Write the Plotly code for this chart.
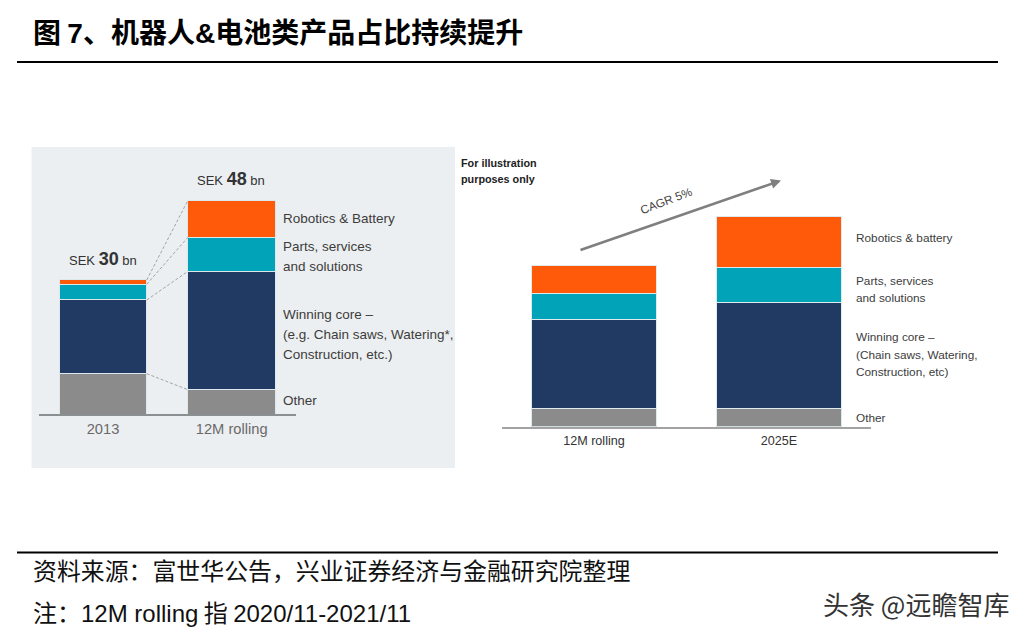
import numpy as np
import plotly.graph_objects as go

W, H = 1030, 636
TITLE = "图 <span style='font-family:Liberation Sans'>7</span>、机器人<span style='font-family:Liberation Sans'>&amp;</span>电池类产品占比持续提升"
SOURCE = "资料来源：富世华公告，兴业证券经济与金融研究院整理"
NOTE = "注：<span style='font-family:Liberation Sans'>12M rolling</span> 指 <span style='font-family:Liberation Sans'>2020/11-2021/11</span>"
WATERMARK = "头条 @远瞻智库"

left_categories = ["2013", "12M rolling"]
left_other = [9.06, 5.46]
left_core = [16.56, 26.6]
left_parts = [3.53, 7.64]
left_robotics = [0.97, 8.31]

right_categories = ["12M rolling", "2025E"]
right_other = [5.5, 5.5]
right_core = [26.6, 31.4]
right_parts = [7.66, 10.6]
right_robotics = [8.23, 15.1]

GREY, NAVY, TEAL, ORANGE = "#8C8B8B", "#213A63", "#00A3B8", "#FF5A0A"
SERIES = [("Other", GREY), ("Winning core", NAVY), ("Parts", TEAL), ("Robotics", ORANGE)]
BAR_W = 0.68


def px(x):
    return x / W


def py(y):
    return 1 - y / H


fig = go.Figure()
for (name, color), lv, rv in zip(
    SERIES,
    [left_other, left_core, left_parts, left_robotics],
    [right_other, right_core, right_parts, right_robotics],
):
    fig.add_bar(x=left_categories, y=lv, name=name, marker=dict(color=color, line=dict(color="#DCE8EC", width=1)),
                width=BAR_W, xaxis="x", yaxis="y", showlegend=False)
    fig.add_bar(x=right_categories, y=rv, name=name, marker=dict(color=color, line=dict(color="#DDEBEE", width=1)),
                width=BAR_W, xaxis="x2", yaxis="y2", showlegend=False)

shapes = [
    dict(type="rect", xref="paper", yref="paper", x0=px(31.5), x1=px(455), y0=py(468), y1=py(147),
         fillcolor="#ECEFF1", line_width=0, layer="below"),
    dict(type="line", xref="paper", yref="paper", x0=px(17), x1=px(998), y0=py(62), y1=py(62),
         line=dict(color="#000000", width=2)),
    dict(type="line", xref="paper", yref="paper", x0=px(17), x1=px(998), y0=py(552.5), y1=py(552.5),
         line=dict(color="#000000", width=2)),
]
# dashed connectors between the two left bars, at each cumulative segment top
cum_a = np.cumsum([left_other[0], left_core[0], left_parts[0], left_robotics[0]])
cum_b = np.cumsum([left_other[1], left_core[1], left_parts[1], left_robotics[1]])
for a, b in zip(cum_a, cum_b):
    shapes.append(dict(type="line", xref="x", yref="y", x0=BAR_W / 2, x1=1 - BAR_W / 2, y0=a, y1=b,
                       line=dict(color="#A0A4A7", width=1, dash="3px,2px")))

LF = "Liberation Sans"
CJK = "Noto Sans CJK SC"
L_SIZE = 13.5
R_SIZE = 11.8


def label(x, y, text, size=L_SIZE, color="#3C3C3C", anchor="left", angle=0, family=LF):
    return dict(xref="paper", yref="paper", x=px(x - (2 if anchor == "left" else 0)), y=py(y), text=text,
                showarrow=False, xanchor=anchor, yanchor="middle", align=anchor,
                textangle=angle, font=dict(family=family, size=size, color=color))


annotations = [
    label(33, 31, f"<b>{TITLE}</b>", size=28, color="#000000", family=CJK),
    label(33, 569, SOURCE, size=23.9, color="#111111", family=CJK),
    label(33, 611, NOTE, size=24, color="#111111", family=CJK),
    label(823, 603, WATERMARK, size=26, color="#333333", family=CJK),
    label(103, 259, "SEK <span style='font-size:18px'><b>30</b></span> bn", size=13, anchor="center", color="#333333"),
    label(231, 179, "SEK <span style='font-size:18px'><b>48</b></span> bn", size=13, anchor="center", color="#333333"),
    label(283, 218, "Robotics &amp; Battery"),
    label(283, 247, "Parts, services"),
    label(283, 266, "and solutions"),
    label(283, 315, "Winning core –"),
    label(283, 334.5, "(e.g. Chain saws, Watering*,"),
    label(283, 354, "Construction, etc.)"),
    label(283, 400, "Other"),
    label(461, 163, "<b>For illustration</b>", size=10.8, color="#222222"),
    label(461, 179, "<b>purposes only</b>", size=10.8, color="#222222"),
    label(856, 238, "Robotics &amp; battery", size=R_SIZE),
    label(856, 281, "Parts, services", size=R_SIZE),
    label(856, 298, "and solutions", size=R_SIZE),
    label(856, 337, "Winning core –", size=R_SIZE),
    label(856, 355, "(Chain saws, Watering,", size=R_SIZE),
    label(856, 372, "Construction, etc)", size=R_SIZE),
    label(856, 418, "Other", size=R_SIZE),
    label(666, 201, "CAGR 5%", size=11.8, anchor="center", angle=-21, color="#444444"),
    dict(xref="paper", yref="paper", x=px(781), y=py(180.5), ax=-202, ay=70, axref="pixel", ayref="pixel",
         text="", showarrow=True, arrowhead=2, arrowsize=0.8, arrowwidth=2.5, arrowcolor="#7F7F7F"),
]

fig.update_layout(
    width=W, height=H, margin=dict(l=0, r=0, t=0, b=0),
    paper_bgcolor="#FFFFFF", plot_bgcolor="rgba(0,0,0,0)",
    barmode="stack", shapes=shapes, annotations=annotations,
    xaxis=dict(domain=[px(39), px(296)], range=[-0.4975, 1.5], anchor="y", type="category",
               showline=True, linecolor="#8A8F92", linewidth=1.5, showgrid=False, ticks="",
               ticklabelstandoff=1, tickfont=dict(family=LF, size=14.7, color="#6A6A6A")),
    yaxis=dict(domain=[py(414), py(191.5)], range=[0, 50], anchor="x", visible=False),
    xaxis2=dict(domain=[px(502), px(871)], range=[-0.497, 1.497], anchor="y2", type="category",
                showline=True, linecolor="#A3A3A3", linewidth=1.5, showgrid=False, ticks="",
                ticklabelstandoff=1, tickfont=dict(family=LF, size=12.6, color="#333333")),
    yaxis2=dict(domain=[py(426.7), py(191.9)], range=[0, 70], anchor="x2", visible=False),
)

fig.write_html("out.html", config=dict(displayModeBar=False),
               post_script="document.body.style.margin='0';")
